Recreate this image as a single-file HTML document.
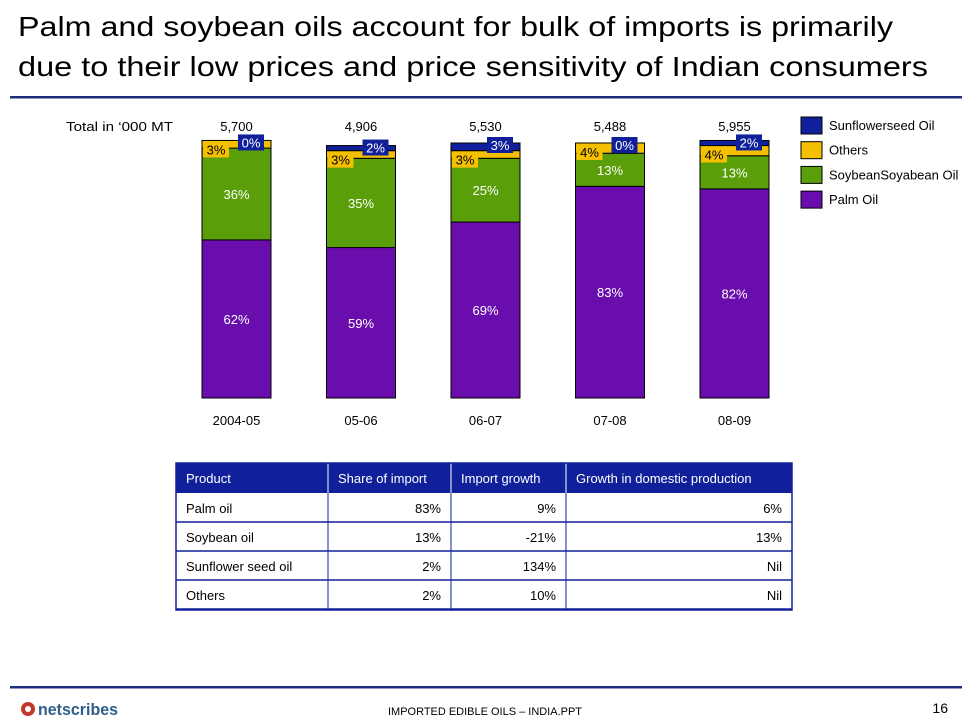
<!DOCTYPE html>
<html><head><meta charset="utf-8"><style>
html,body{margin:0;padding:0;background:#fff}
svg{display:block;font-family:"Liberation Sans",sans-serif}
</style></head><body>
<svg id="s" width="971" height="728" viewBox="0 0 971 728">
<g font-size="28" fill="#000">
<text x="18" y="36" textLength="875" lengthAdjust="spacingAndGlyphs">Palm and soybean oils account for bulk of imports is primarily</text>
<text x="18" y="76" textLength="910" lengthAdjust="spacingAndGlyphs">due to their low prices and price sensitivity of Indian consumers</text>
</g>
<rect x="10" y="96" width="952" height="2.5" fill="#1f2a78"/>
<text x="66" y="131" font-size="13" textLength="107" lengthAdjust="spacingAndGlyphs">Total in ‘000 MT</text>
<g id="chart"></g>
<g id="legend"></g>
<g id="table"></g>
<rect x="10" y="686" width="952" height="2.5" fill="#1f2a78"/>
<g>
<circle cx="28" cy="709" r="7" fill="#c0392b"/><circle cx="28" cy="709" r="3" fill="#fff"/>
<text x="38" y="715" font-size="17" font-weight="bold" fill="#2c5f8a" textLength="80" lengthAdjust="spacingAndGlyphs">netscribes</text>
</g>
<text x="388" y="715" font-size="11" textLength="194" lengthAdjust="spacingAndGlyphs">IMPORTED EDIBLE OILS – INDIA.PPT</text>
<text x="948" y="713" font-size="14" text-anchor="end">16</text>
</svg>
<script>
const categories=["2004-05","05-06","06-07","07-08","08-09"];
const totals=["5,700","4,906","5,530","5,488","5,955"];
const palm=[62,59,69,83,82];
const soy=[36,35,25,13,13];
const others=[3,3,3,4,4];
const sunflower=[0,2,3,0,2];
const NS="http://www.w3.org/2000/svg";
const svg=document.getElementById('chart');
const base=398, pxPer=2.55, x0=202, step=124.5, bw=69;
function xs(i){return x0+i*step;}
function ys(v){return base-v*pxPer;}
function mk(tag,attrs,parent,txt){const e=document.createElementNS(NS,tag);for(const k in attrs)e.setAttribute(k,attrs[k]);if(txt!=null)e.textContent=txt;parent.appendChild(e);return e;}
const series=[["palm",palm,"#6a0dad"],["soy",soy,"#5a9e0a"],["others",others,"#f5c000"],["sunflower",sunflower,"#10209a"]];
categories.forEach((c,i)=>{
  let cum=0;const x=xs(i);const tops={};
  series.forEach(([n,arr,col])=>{
    const y1=ys(cum),y2=ys(cum+arr[i]);
    const r=mk('rect',{x:x,y:y2,width:bw,height:Math.max(0,y1-y2),fill:col,stroke:'#000','stroke-width':1},svg);
    
    
    tops[n]=[y1,y2];cum+=arr[i];
  });
  const t1=mk('text',{x:x+bw/2,y:(tops.palm[0]+tops.palm[1])/2+5,'font-size':13,fill:'#fff','text-anchor':'middle'},svg,palm[i]+'%');
  
  
  const t2=mk('text',{x:x+bw/2,y:(tops.soy[0]+tops.soy[1])/2+5,'font-size':13,fill:'#fff','text-anchor':'middle'},svg,soy[i]+'%');
  
  
  const oy=tops.others[1]+1;
  const ob=mk('rect',{x:x+1,y:oy,width:26,height:16,fill:'#f5c000'},svg);
  
  
  const ot=mk('text',{x:x+14,y:oy+13,'font-size':13,fill:'#000','text-anchor':'middle'},svg,others[i]+'%');
  
  
  const sy=tops.sunflower[1]-6;
  const sb=mk('rect',{x:x+36,y:sy,width:26,height:16,fill:'#10209a'},svg);
  
  
  const st=mk('text',{x:x+49,y:sy+13,'font-size':13,fill:'#fff','text-anchor':'middle'},svg,sunflower[i]+'%');
  
  
  const tt=mk('text',{x:x+bw/2,y:131,'font-size':13,'text-anchor':'middle'},svg,totals[i]);
  
  
  const ct=mk('text',{x:x+bw/2,y:425,'font-size':13,'text-anchor':'middle'},svg,c);
  
  
});
const leg=document.getElementById('legend');
const legendNames=["Sunflowerseed Oil","Others","SoybeanSoyabean Oil","Palm Oil"];
const legendCols=["#10209a","#f5c000","#5a9e0a","#6a0dad"];
legendNames.forEach((n,i)=>{
  const y=117+i*24.7;
  const r=mk('rect',{x:801,y:y,width:21,height:17,fill:legendCols[i],stroke:'#000','stroke-width':1},leg);
  
  
  const t=mk('text',{x:829,y:y+13,'font-size':13},leg,n);
  
  
});
const tb=document.getElementById('table');
const cols=[176,328,451,566,792];
const rowsY=[463,493,522,551,580,610];
const header=["Product","Share of import","Import growth","Growth in domestic production"];
const rows=[["Palm oil","83%","9%","6%"],["Soybean oil","13%","-21%","13%"],["Sunflower seed oil","2%","134%","Nil"],["Others","2%","10%","Nil"]];
const hb=mk('rect',{x:176,y:463,width:616,height:30,fill:'#10209a'},tb);


header.forEach((h,j)=>{
  const t=mk('text',{x:cols[j]+10,y:483,'font-size':13,fill:'#fff'},tb,h);
  
  
  if(j>0){const l=mk('line',{x1:cols[j],y1:463,x2:cols[j],y2:610,stroke:j>0?'#fff':'#10209a','stroke-width':1},tb);}
});
for(let j=1;j<4;j++){const l=mk('line',{x1:cols[j],y1:493,x2:cols[j],y2:610,stroke:'#10209a','stroke-width':1},tb);}
rows.forEach((r,i)=>{
  const y=rowsY[i+1];
  const l=mk('line',{x1:176,y1:y+29,x2:792,y2:y+29,stroke:'#10209a','stroke-width':1.5},tb);
  
  
  r.forEach((v,j)=>{
    const t=mk('text',{x:j==0?cols[0]+10:cols[j+1]-10,y:y+20,'font-size':13,'text-anchor':j==0?'start':'end'},tb,v);
    
    
  });
});
const bd=mk('rect',{x:176,y:463,width:616,height:147,fill:'none',stroke:'#10209a','stroke-width':1.5},tb);


</script>
</body></html>
